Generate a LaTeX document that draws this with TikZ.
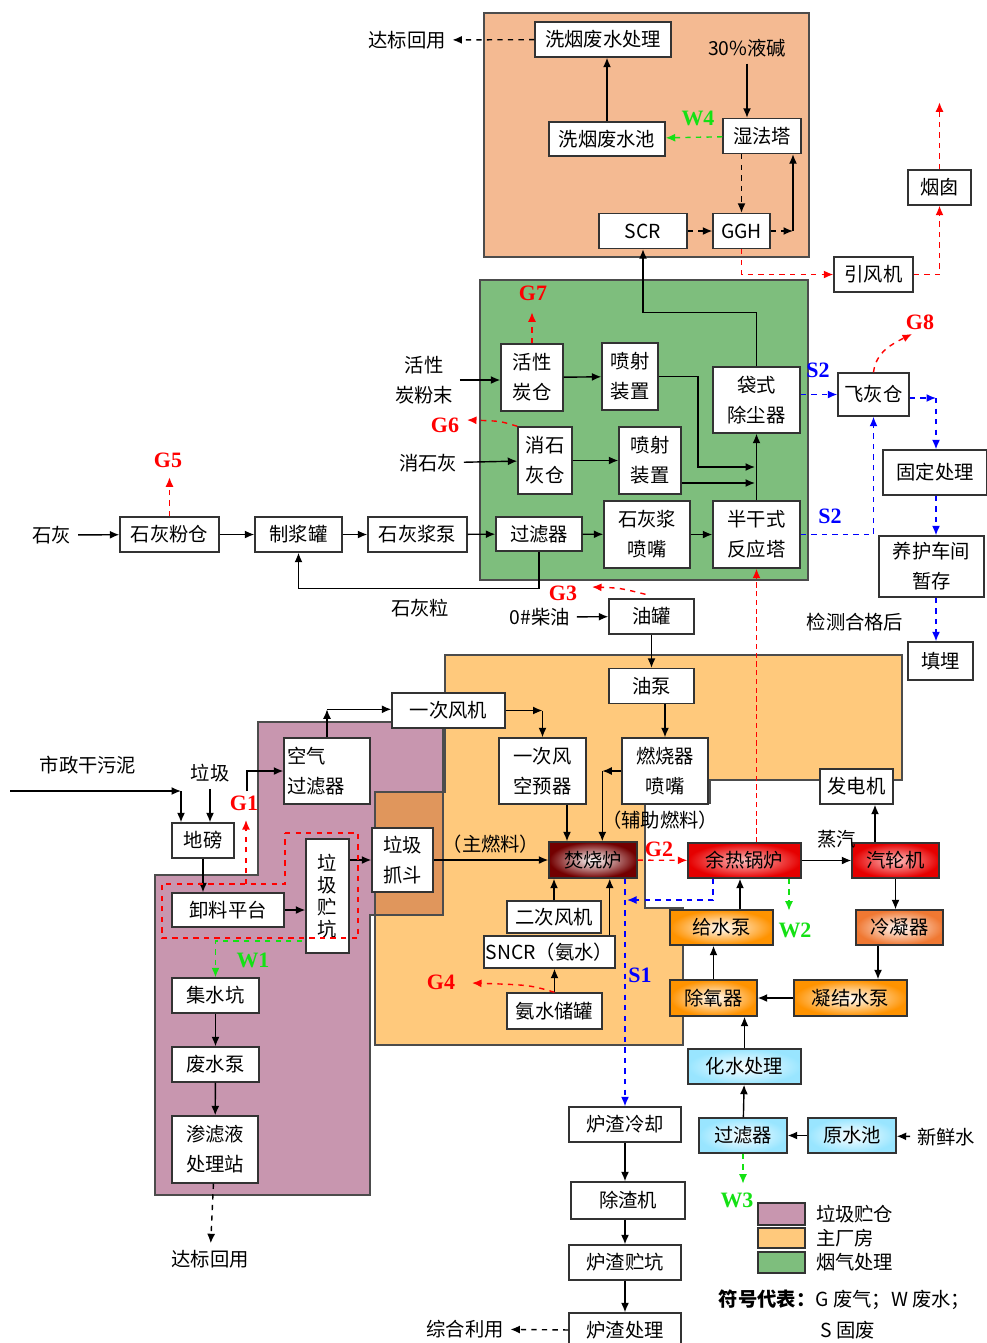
\documentclass[tikz,border=0pt]{standalone}
\usepackage{fontspec}
\setmainfont{Noto Sans CJK SC}
\newfontfamily\lbl{Liberation Serif}
\usepackage{tikz}
\usetikzlibrary{arrows,arrows.meta,calc,positioning}

\definecolor{pitc}{RGB}{200,150,175}
\definecolor{mainc}{RGB}{255,201,124}
\definecolor{overc}{RGB}{224,150,92}
\definecolor{fluec}{RGB}{126,190,125}
\definecolor{wetc}{RGB}{244,186,146}
\definecolor{wgreen}{RGB}{20,225,20}

\begin{document}
\begin{tikzpicture}[x=0.02cm, y=-0.02cm,
  box/.style={draw=black!80, thick, fill=white, inner sep=0pt, align=center},
  sz/.style 2 args={minimum width=#1*0.02cm, minimum height=#2*0.02cm},
  arr/.style={thick, -{Latex[length=1.9mm, width=1.6mm]}},
  gas/.style={arr, red, dashed},
  wat/.style={arr, wgreen, dashed},
  sol/.style={arr, blue, dashed},
  glbl/.style={font=\lbl\bfseries\fontsize{12.5}{13}\selectfont, text=red},
  wlbl/.style={font=\lbl\bfseries\fontsize{12.5}{13}\selectfont, text=wgreen},
  slbl/.style={font=\lbl\bfseries\fontsize{12.5}{13}\selectfont, text=blue},
  hot/.style={box, inner color=white!75!red, outer color=red!90!black},
  furn/.style={box, inner color=white, outer color=red!45!black},
  warm/.style={box, inner color=white, outer color=orange!85!yellow},
  cold/.style={box, inner color=white, outer color=blue!25!cyan!40}]
	\fontsize{11}{17}\selectfont
  \useasboundingbox (0,0) rectangle (987,1343);

  % areas
  \draw[thick, draw=black!70, fill=wetc] (484,13) rectangle (809,257);
  \draw[thick, draw=black!70, fill=fluec] (480,280) rectangle (808,580);
  \draw[thick, draw=black!70, fill=mainc] (445,655) -- (902,655) -- (902,780) -- (710,780) -- (710,803) -- (645,803)
    -- (645,908) -- (683,908) -- (683,1045) -- (375,1045) -- (375,792) -- (445,792) -- cycle;
  \draw[thick, draw=black!70, fill=pitc] (258,722) -- (443,722) -- (443,915) -- (370,915) -- (370,1195) -- (155,1195)
    -- (155,875) -- (258,875) -- cycle;
  \draw[thick, draw=black!70, fill=overc] (375,792) rectangle (443,915);

  % flue gas, wet part
  \node[box, sz={136}{35}] (wwt) at (603,39.5) {洗烟废水处理};
  \node (naoh) at (747,48) {30\%液碱};
  \node[box, sz={116}{34}] (wwp) at (607,139) {洗烟废水池};
  \node[box, sz={78}{35}] (wet) at (762,136) {湿法塔};
  \node[box, sz={88}{35}] (scr) at (643,231) {SCR};
  \node[box, sz={57}{35}] (ggh) at (741.5,231) {GGH};
  \node[box, sz={79}{35}] (fan) at (873.5,274.5) {引风机};
  \node[box, sz={63}{35}] (stack) at (939.5,187.5) {烟囱};
  \node (reuse1) at (407,40) {达标回用};
  \node[wlbl] at (698,118) {W4};
  \coordinate (gghout) at (793,231);

  % flue gas, dry part
  \node[box, sz={62}{67}] (pac) at (532,377.5) {活性\\炭仓};
  \node[box, sz={56}{67}] (inj1) at (630,376.5) {喷射\\装置};
  \node[box, sz={87}{66}] (bag) at (756.5,400) {袋式\\除尘器};
  \node[box, sz={54}{67}] (hlb) at (545,460.5) {消石\\灰仓};
  \node[box, sz={62}{67}] (inj2) at (650,460.5) {喷射\\装置};
  \node[box, sz={86}{34}] (flt1) at (539,534) {过滤器};
  \node[box, sz={86}{67}] (nozl) at (647,534.5) {石灰浆\\喷嘴};
  \node[box, sz={87}{67}] (sdr) at (756.5,534.5) {半干式\\反应塔};
  \node[align=center] (pact) at (424,380) {活性\\炭粉末};
  \node (slime) at (428,463) {消石灰};
  \node[glbl] at (533,293) {G7};
  \node[glbl] at (445,425) {G6};
  \coordinate (jn1) at (755,467);
  \coordinate (jn2) at (755,483);

  % lime
  \node (lime) at (52,535) {石灰};
  \node[box, sz={99}{35}] (lpb) at (169.5,534.5) {石灰粉仓};
  \node[box, sz={87}{35}] (slur) at (298.5,534.5) {制浆罐};
  \node[box, sz={99}{35}] (lpump) at (417.5,534.5) {石灰浆泵};
  \node (grain) at (420,608) {石灰粒};
  \node[glbl] at (168,460) {G5};

  % fly ash
  \node[box, sz={71}{43}] (ash) at (873.5,394.5) {飞灰仓};
  \node[box, sz={104}{45}] (fix) at (935,472.5) {固定处理};
  \node[box, sz={105}{61}] (cure) at (931.5,566.5) {养护车间\\暂存};
  \node[box, sz={65}{38}] (landf) at (940.5,661) {填埋};
  \node (check) at (855,622) {检测合格后};
  \node[slbl] at (818,370) {S2};
  \node[slbl] at (830,516) {S2};
  \node[glbl] at (920,322) {G8};
  \coordinate (ashout) at (936,398);

  % oil
  \node (diesel) at (540,617) {0\#柴油};
  \node[box, sz={85}{35}] (otank) at (651.5,616.5) {油罐};
  \node[box, sz={85}{35}] (opump) at (651.5,686) {油泵};
  \node[glbl] at (563,593) {G3};

  % waste pit
  \node (sludge) at (88,765) {市政干污泥};
  \node (waste) at (210,773) {垃圾};
  \node[box, sz={62}{35}] (scale) at (203,840.5) {地磅};
  \node[box, sz={112}{34}] (unload) at (228,910) {卸料平台};
  \node[box, sz={43}{114}, font=\fontsize{11}{12.5}\selectfont] (pit) at (327.5,896) {垃\\圾\\贮\\坑};
  \node[box, sz={61}{64}] (grab) at (402.5,860) {垃圾\\抓斗};
  \node[box, sz={86}{66}, align=left, text width=80*0.02cm] (airf) at (327,771) {空气\\过滤器};
  \node[glbl] at (244,803) {G1};
  \node[wlbl] at (253,960) {W1};
  \coordinate (sin) at (10,791);
  \coordinate (sturn) at (181,791);
  \coordinate (afin) at (247,791);
  \coordinate (w1s) at (302,941);

  % incinerator
  \node[box, sz={113}{35}] (pfan) at (448.5,710.5) {一次风机};
  \node[box, sz={87}{66}] (pah) at (542.5,771) {一次风\\空预器};
  \node[box, sz={86}{66}] (burn) at (665,771) {燃烧器\\喷嘴};
  \node[furn, sz={88}{36}] (inc) at (593,860) {焚烧炉};
  \node[box, sz={94}{32}] (sfan) at (554,917) {二次风机};
  \node[box, sz={131}{32}] (sncr) at (549.5,952) {SNCR（氨水）};
  \node[box, sz={95}{36}] (nh3) at (554.5,1011) {氨水储罐};
  \node at (660,820) {（辅助燃料）};
  \node[glbl] at (659,849) {G2};
  \node[glbl] at (441,982) {G4};
  \node[slbl] at (640,975) {S1};
  \coordinate (pfo) at (542.5,710.5);
  \coordinate (s1j) at (627,900);

  % leachate
  \node[box, sz={87}{35}] (sump) at (215.5,995.5) {集水坑};
  \node[box, sz={87}{35}] (wpump) at (215.5,1064.5) {废水泵};
  \node[box, sz={86}{67}] (leach) at (215,1149.5) {渗滤液\\处理站};
  \node (reuse2) at (210,1259) {达标回用};

  % steam cycle
  \node[hot, sz={113}{35}] (hrsg) at (744.5,860.5) {余热锅炉};
  \node[hot, sz={87}{35}] (turb) at (895.5,860.5) {汽轮机};
  \node[box, sz={73}{35}] (gen) at (856.5,786.5) {发电机};
  \node[box, sz={87}{35}, inner color=white, outer color={rgb,255:red,240;green,120;blue,50}] (cond) at (899.5,927.5) {冷凝器};
  \node[warm, sz={113}{36}] (cpump) at (850.5,998) {凝结水泵};
  \node[warm, sz={87}{36}] (dea) at (713.5,998) {除氧器};
  \node[warm, sz={103}{35}] (fpump) at (721.5,927.5) {给水泵};
  \node[cold, sz={113}{35}] (chem) at (744.5,1066.5) {化水处理};
  \node[cold, sz={88}{35}] (flt2) at (743,1135.5) {过滤器};
  \node[cold, sz={88}{35}] (raw) at (852,1135.5) {原水池};
  \node (fresh) at (946,1137) {新鲜水};
  \node[wlbl] at (795,930) {W2};
  \node[wlbl] at (737,1200) {W3};

  % slag
  \node[box, sz={112}{35}] (cool) at (625,1124.5) {炉渣冷却};
  \node[box, sz={114}{37}] (remv) at (628,1200.5) {除渣机};
  \node[box, sz={112}{35}] (spit) at (625,1262.5) {炉渣贮坑};
  \node[box, sz={112}{35}] (slag) at (625,1330.5) {炉渣处理};
  \node (util) at (465,1329) {综合利用};

  % legend
  \node[box, sz={47}{22}, fill=pitc] (lg1) at (781.5,1214) {};
  \node[box, sz={47}{20}, fill=mainc] (lg2) at (781.5,1238) {};
  \node[box, sz={47}{21}, fill=fluec] (lg3) at (781.5,1262.5) {};
  \node[right=2pt of lg1] {垃圾贮仓};
  \node[right=2pt of lg2] {主厂房};
  \node[right=2pt of lg3] {烟气处理};
  \node[anchor=west] (note) at (712,1300) {\textbf{符号代表：}G 废气；W 废水；};
  \node[anchor=west] at (814,1330) {S 固废};

  % wet part
  \draw[arr] (wwp.north) -- (wwp.north |- wwt.south);
  \draw[arr] (naoh.south) -- (naoh.south |- wet.north);
  \draw[wat] (wet) -- (wwp);
  \draw[arr, dashed] (ggh.north |- wet.south) -- (ggh.north);
  \draw[arr, dashed] (scr) -- (ggh);
  \draw[arr, dashed] (ggh) -- (gghout);
  \draw[arr] (gghout) -- (gghout |- wet.south);
  \draw[arr, dashed] (wwt) -- (reuse1);
  \draw[gas] (ggh.south) |- (fan.west);
  \draw[gas] (fan.east) -| (stack.south);
  \draw[gas] (stack.north) -- ++(0,-67);
  \draw[arr] (bag.north) -- ++(0,-54) -| (scr.south);

  % dry part
  \draw[arr] (pact.east) -- (pact.east -| pac.west);
  \draw[arr] (pac) -- (inj1);
  \draw[arr] (inj1.east) -| (698,467) -- (jn1);
  \draw[arr] (inj2.east |- jn2) -- (jn2);
  \draw[arr] (hlb) -- (inj2);
  \draw[arr] (slime) -- (hlb);
  \draw[arr] (sdr) -- (bag);
  \draw[arr] (lpump) -- (flt1);
  \draw[arr] (flt1) -- (nozl);
  \draw[arr] (nozl) -- (sdr);
  \draw[arr] (flt1.south) -- ++(0,37) -| (slur.south);
  \draw[gas] (hlb.north west) .. controls (500,421) .. (467,420);
  \draw[gas] (pac.north) -- ++(0,-31);

  % lime and ash
  \draw[arr] (lime) -- (lpb);
  \draw[arr] (lpb) -- (slur);
  \draw[arr] (slur) -- (lpump);
  \draw[gas] (lpb.north) -- ++(0,-39);
  \draw[sol] (bag.east |- ash) -- (ash);
  \draw[sol] (sdr.east) -| (ash.south);
  \draw[gas] (ash.north) .. controls (876,352) and (892,344) .. (912,334);
  \draw[sol] (ash.east |- ashout) -- (ashout);
  \draw[sol] (ashout) -- (ashout |- fix.north);
  \draw[sol] (fix.south -| ashout) -- (ashout |- cure.north);
  \draw[sol] (cure.south -| ashout) -- (ashout |- landf.north);

  % oil
  \draw[arr] (diesel) -- (otank);
  \draw[arr] (otank) -- (opump);
  \draw[arr] (burn.north |- opump.south) -- (burn.north);
  \draw[gas] ($(otank.north)+(-6,-4)$) .. controls (620,588) .. (592,587);

  % waste pit
  \draw[arr] (sin) -- (sturn);
  \draw[arr] (sturn) -- (sturn |- scale.north);
  \draw[arr] (waste.south) -- (waste.south |- scale.north);
  \draw[arr] (scale) -- (scale |- unload.north);
  \draw[arr] (unload.east) -- (unload.east -| pit.west);
  \draw[arr] (pit.east |- grab) -- (grab);
  \draw[arr] (grab) -- node[above] {（主燃料）} (inc);
  \draw[thick, red, dashed] (285,833) -- (358,833) -- (358,938) -- (162,938) -- (162,884) -- (285,884) -- cycle;
  \draw[gas] (246,884) -- (246,820);
  \draw[arr] (afin) |- (airf.west);
  \draw[arr] (airf.north) -- ++(0,-28) coordinate (afup);
  \draw[arr] (afup) -- (afup -| pfan.west);
  \draw[wat] (w1s) -| (sump.north);

  % incinerator
  \draw[arr] (pfan) -- (pfo);
  \draw[arr] (pfo) -- (pah);
  \draw[arr] ([xshift=0.49cm]pah.south) -- ([xshift=0.49cm]pah.south |- inc.north);
  \draw[arr] (burn.west) -- ++(-19,0) coordinate (bo);
  \draw[arr] (bo) -- (bo |- inc.north);
  \draw[arr] (sfan) -- (sfan |- inc.south);
  \draw[arr] ([xshift=-0.12cm]sncr.north east) -- ([xshift=-0.12cm]sncr.north east |- inc.south);
  \draw[arr] (nh3.north) -- (nh3.north |- sncr.south);
  \draw[gas] (nh3.north) .. controls (530,985) .. (472,983);
  \draw[gas] (inc) -- (hrsg);
  \draw[sol] (cool.north |- inc.south) -- (cool.north);
  \draw[sol] ([xshift=-0.63cm]hrsg.south) |- (s1j);
  \draw[gas, dash pattern=on 3pt off 2pt] (sdr.south |- hrsg.north) -- (sdr.south);

  % leachate
  \draw[arr] (sump) -- (wpump);
  \draw[arr] (wpump) -- (leach);
  \draw[arr, dashed] (leach) -- (reuse2);

  % steam cycle
  \draw[arr] (hrsg) -- node[above=3pt, xshift=0.2cm] {蒸汽} (turb);
  \draw[arr] ([xshift=0.37cm]gen.south |- turb.north) -- ([xshift=0.37cm]gen.south);
  \draw[arr] (turb.south) -- (turb.south |- cond.north);
  \draw[arr] ([xshift=-0.43cm]cond.south) -- ([xshift=-0.43cm]cond.south |- cpump.north);
  \draw[arr] (cpump) -- (dea);
  \draw[arr] (dea.north) -- (dea.north |- fpump.south);
  \draw[arr] ([xshift=0.37cm]fpump.north) -- ([xshift=0.37cm]fpump.north |- hrsg.south);
  \draw[wat] ([xshift=0.89cm]hrsg.south) -- ++(0,32);
  \draw[arr] (chem.north) -- (chem.north |- dea.south);
  \draw[arr] (flt2) -- (chem);
  \draw[arr] (raw) -- (flt2);
  \draw[arr] (fresh) -- (raw);
  \draw[wat] (flt2.south) -- ++(0,30);

  % slag
  \draw[arr] (cool.south) -- (cool.south |- remv.north);
  \draw[arr] (spit.north |- remv.south) -- (spit.north);
  \draw[arr] (spit) -- (slag);
  \draw[arr, dashed] (slag) -- (util);
\end{tikzpicture}
\end{document}
